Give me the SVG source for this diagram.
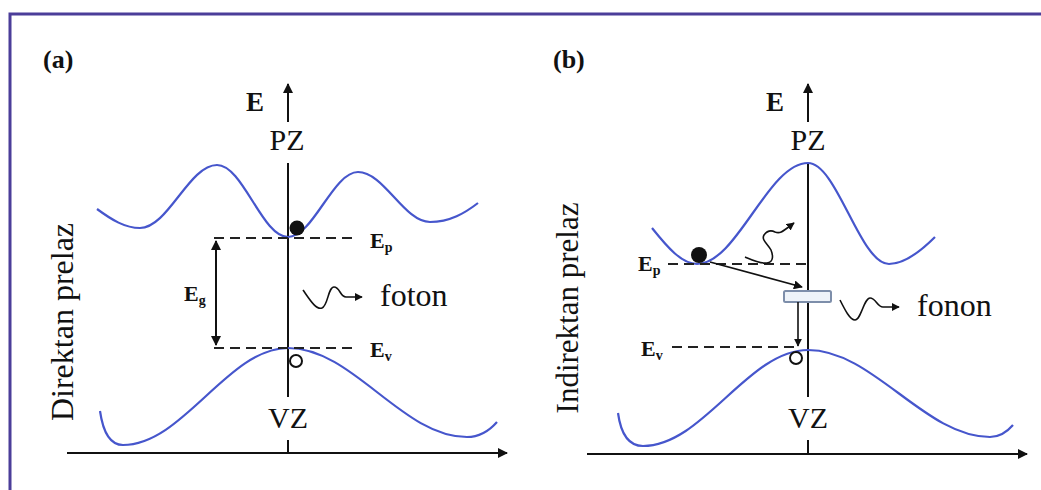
<svg xmlns="http://www.w3.org/2000/svg" width="1041" height="490" viewBox="0 0 1041 490">
<defs>
<marker id="ah" viewBox="0 0 10 10" refX="9" refY="5" markerWidth="5" markerHeight="5" orient="auto-start-reverse" markerUnits="strokeWidth">
<path d="M0,0 L10,5 L0,10 z" fill="#111"/>
</marker>
<style>
.band{fill:none;stroke:#4656cc;stroke-width:2.2}
.ax{fill:none;stroke:#111;stroke-width:2}
.dash{fill:none;stroke:#222;stroke-width:2;stroke-dasharray:10 6}
.wave{fill:none;stroke:#111;stroke-width:1.6}
.t{font-family:"Liberation Serif","Times New Roman",serif;fill:#111}
.b{font-weight:bold}
</style>
</defs>
<rect width="1041" height="490" fill="#fff"/>
<path d="M10,490 L10,14 L1041,14" fill="none" stroke="#4b3d99" stroke-width="3"/>

<g id="panel-a">
<text class="t b" x="43" y="68" font-size="26">(a)</text>
<text class="t" transform="translate(73,322) rotate(-90)" text-anchor="middle" font-size="32">Direktan prelaz</text>
<g id="axes-a">
<line class="ax" x1="288" y1="122" x2="288" y2="84" marker-end="url(#ah)"/>
<line class="ax" x1="288" y1="163" x2="288" y2="397"/>
<line class="ax" x1="288" y1="440" x2="288" y2="453"/>
<line class="ax" x1="67" y1="453" x2="507" y2="453" marker-end="url(#ah)"/>
<text class="t b" x="246" y="111" font-size="27">E</text>
<text class="t" x="287" y="150" text-anchor="middle" font-size="30">PZ</text>
<text class="t" x="288" y="428" text-anchor="middle" font-size="30">VZ</text>
</g>
<g id="cb-a"><path class="band" d="M97,209 C112,220 125,228 140,228 C168,228 189,165 217,165 C243,165 262,237 288,237 C313,237 333,172 358,172 C384,172 404,222 430,222 C450,222 465,213 478,203"/></g>
<g id="vb-a"><path class="band" d="M100,411 C103,432 110,445 123,445 C183,445 228,348 288,348 C353,348 402,437 467,437 C480,437 490,430 497,422"/></g>
<g id="levels-a">
<line class="dash" x1="214" y1="238" x2="352" y2="238"/>
<line class="dash" x1="214" y1="348" x2="352" y2="348" stroke="#555"/>
<text class="t b" x="370" y="248" font-size="22">E<tspan font-size="14" dy="4">p</tspan></text>
<text class="t b" x="370" y="357" font-size="22">E<tspan font-size="14" dy="4">v</tspan></text>
</g>
<g id="eg-a">
<line class="ax" x1="216" y1="241" x2="216" y2="345" marker-start="url(#ah)" marker-end="url(#ah)"/>
<text class="t b" x="184" y="301" font-size="22">E<tspan font-size="14" dy="4">g</tspan></text>
</g>
<g id="electron-a"><circle cx="297" cy="228" r="7.5" fill="#111"/></g>
<g id="hole-a"><circle cx="296" cy="361" r="6" fill="#fff" stroke="#111" stroke-width="2"/></g>
<g id="foton">
<path class="wave" d="M303,290 C310,300 316,310 322,308 C328,306 328,287 334,287 C340,287 340,297 346,297 L362,297" marker-end="url(#ah)"/>
<text class="t" x="380" y="306" font-size="32">foton</text>
</g>
</g>

<g id="panel-b">
<text class="t b" x="553" y="68" font-size="26">(b)</text>
<text class="t" transform="translate(578,308) rotate(-90)" text-anchor="middle" font-size="31">Indirektan prelaz</text>
<g id="axes-b">
<line class="ax" x1="808" y1="122" x2="808" y2="84" marker-end="url(#ah)"/>
<line class="ax" x1="808" y1="163" x2="808" y2="397" stroke-width="3"/>
<line class="ax" x1="808" y1="440" x2="808" y2="454"/>
<line class="ax" x1="587" y1="454" x2="1027" y2="454" marker-end="url(#ah)"/>
<text class="t b" x="766" y="111" font-size="27">E</text>
<text class="t" x="808" y="150" text-anchor="middle" font-size="30">PZ</text>
<text class="t" x="808" y="428" text-anchor="middle" font-size="30">VZ</text>
</g>
<g id="cb-b"><path class="band" d="M652,228 C668,248 682,264 697,264 C737,264 768,163 808,163 C837,163 860,264 889,264 C905,264 922,250 935,237"/></g>
<g id="vb-b"><path class="band" d="M618,413 C621,435 630,446 643,446 C703,446 748,350 808,350 C873,350 925,437 990,437 C1000,437 1007,432 1013,425"/></g>
<g id="levels-b">
<line class="dash" x1="668" y1="264" x2="806" y2="264" stroke="#444" stroke-width="1.6"/>
<line class="dash" x1="672" y1="347" x2="800" y2="347"/>
<text class="t b" x="638" y="271" font-size="22">E<tspan font-size="14" dy="4">p</tspan></text>
<text class="t b" x="641" y="356" font-size="22">E<tspan font-size="14" dy="4">v</tspan></text>
</g>
<g id="electron-b"><circle cx="699" cy="255" r="8" fill="#111"/></g>
<g id="hole-b"><circle cx="796" cy="358" r="6" fill="#fff" stroke="#111" stroke-width="2"/></g>
<g id="trap"><rect x="784" y="291" width="47" height="11" rx="1.5" fill="#eef3f9" stroke="#7d8eaa" stroke-width="2"/></g>
<g id="connectors">
<line x1="710" y1="262" x2="802" y2="287" stroke="#111" stroke-width="1.8" marker-end="url(#ah)"/>
<line x1="798" y1="302" x2="798" y2="346" stroke="#111" stroke-width="1.6" marker-end="url(#ah)"/>
<path class="wave" d="M745,257 C752,260 760,264 767,263 C774,262 773,255 771,250 C768,244 761,240 764,235 C767,231 771,230 775,232 C780,234 782,232 794,223" marker-end="url(#ah)"/>
</g>
<g id="fonon">
<path class="wave" d="M840,300 C845,310 850,320 855,320 C861,320 864,298 870,298 C876,298 877,307 883,307 L899,307" marker-end="url(#ah)"/>
<text class="t" x="917" y="316" font-size="32">fonon</text>
</g>
</g>
</svg>
